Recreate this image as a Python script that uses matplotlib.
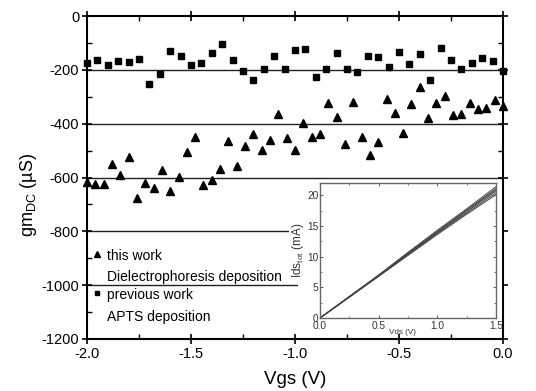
import numpy as np
import matplotlib
matplotlib.use("Agg")
import matplotlib.pyplot as plt
from matplotlib.patches import Rectangle

plt.rcParams['font.family'] = ['Liberation Sans', 'DejaVu Sans']
plt.rcParams['mathtext.default'] = 'regular'

# ---- data ----
vgs_this = np.round(np.arange(-2.0, 0.0001, 0.04), 2)  # 51 points
gm_this = [-616, -623, -623, -551, -589, -523, -678, -622, -640, -573,
           -652, -599, -504, -448, -628, -609, -567, -465, -559, -484,
           -440, -499, -462, -363, -454, -499, -399, -449, -440, -323,
           -374, -474, -320, -449, -517, -468, -309, -360, -433, -328,
           -265, -378, -325, -299, -369, -363, -323, -346, -341, -312,
           -336]
vgs_prev = np.round(np.arange(-2.0, 0.0001, 0.05), 2)  # 41 points
gm_prev = [-173, -163, -183, -168, -170, -159, -251, -215, -130, -149,
           -183, -173, -137, -104, -163, -205, -237, -196, -147, -198,
           -125, -122, -226, -198, -138, -198, -209, -147, -153, -188,
           -133, -177, -141, -238, -119, -164, -198, -173, -157, -169,
           -205]

vds = [0.0, 0.25, 0.5, 0.75, 1.0, 1.25, 1.5]
ids_curves = [
    [0, 3.4, 6.8, 10.2, 13.6, 16.9, 20.1],
    [0, 3.4, 6.8, 10.3, 13.8, 17.1, 20.4],
    [0, 3.4, 6.9, 10.4, 13.9, 17.3, 20.7],
    [0, 3.5, 6.9, 10.5, 14.0, 17.5, 20.9],
    [0, 3.5, 7.0, 10.6, 14.1, 17.6, 21.1],
    [0, 3.5, 7.0, 10.7, 14.3, 17.8, 21.4],
]

xticks = [-2.0, -1.5, -1.0, -0.5, 0.0]
yticks = [0, -200, -400, -600, -800, -1000, -1200]
grid_levels = [-200, -400, -600, -800, -1000]

fig = plt.figure(figsize=(5.36, 3.91), dpi=100)
ax = fig.add_axes([87/536, 1-339/391, 416/536, 323/391])

for g in grid_levels:
    ax.axhline(g, color='#222222', lw=1.0, zorder=1)

ax.plot(vgs_prev, gm_prev, 's', color='black', ms=4.3, ls='none', zorder=3, clip_on=False)
ax.plot(vgs_this, gm_this, '^', color='black', ms=6.0, ls='none', zorder=3, clip_on=False)

ax.set_xlim(-2.0, 0.0)
ax.set_ylim(-1200, 0)
ax.set_xticks(xticks)
ax.set_xticklabels([f"{t:.1f}" for t in xticks])
ax.set_yticks(yticks)
ax.set_yticklabels([str(t) for t in yticks])
ax.set_xticks(np.arange(-2.0, 0.01, 0.25), minor=True)
ax.set_yticks(np.arange(-1200, 1, 100), minor=True)
ax.tick_params(which='major', direction='inout', length=7, width=1.2, labelsize=10.5,
               top=True, right=True, pad=2)
ax.tick_params(which='minor', direction='in', length=3.5, width=1.0, top=True, right=True)
for s in ax.spines.values():
    s.set_linewidth(1.5)
ax.set_xlabel('Vgs (V)', fontsize=13.5)
ax.xaxis.set_label_coords(0.5, -0.1)
ax.set_ylabel('gm$_{DC}$ (\u00b5S)', fontsize=13)
ax.yaxis.set_label_coords(-0.115, 0.446)

# legend-like annotation
ax.plot([0.023], [0.262], '^', color='black', ms=4.5, transform=ax.transAxes, clip_on=False)
ax.text(0.048, 0.257, 'this work', transform=ax.transAxes, fontsize=10, va='center')
ax.text(0.048, 0.193, 'Dielectrophoresis deposition', transform=ax.transAxes, fontsize=10, va='center')
ax.plot([0.023], [0.143], 's', color='black', ms=3.2, transform=ax.transAxes, clip_on=False)
ax.text(0.048, 0.136, 'previous work', transform=ax.transAxes, fontsize=10, va='center')
ax.text(0.048, 0.069, 'APTS deposition', transform=ax.transAxes, fontsize=10, va='center')

# white background for inset region
fig.patches.append(Rectangle((298/536, 1-334/391), 204/536, 152/391,
                             transform=fig.transFigure, facecolor='white',
                             edgecolor='none', zorder=2))

iax = fig.add_axes([320/536, 1-318/391, 176/536, 135/391], zorder=5)
for ids in ids_curves:
    iax.plot(vds, ids, color='#444444', lw=0.7)
iax.set_xlim(0, 1.5)
iax.set_ylim(0, 22)
iax.set_xticks([0.0, 0.5, 1.0, 1.5])
iax.set_xticklabels(['0.0', '0.5', '1.0', '1.5'])
iax.set_yticks([0, 5, 10, 15, 20])
iax.set_xticks(np.arange(0, 1.51, 0.25), minor=True)
iax.set_yticks(np.arange(0, 22.1, 2.5), minor=True)
iax.tick_params(which='both', direction='in', top=True, right=True, labelsize=7.3,
                colors='#444444', labelcolor='#333333', pad=1)
iax.tick_params(axis='x', which='major', pad=2.5)
iax.tick_params(which='major', length=2.5, width=0.6)
iax.tick_params(which='minor', length=1.5, width=0.5)
for s in iax.spines.values():
    s.set_linewidth(1.0)
    s.set_color('#666666')
iax.text(0.47, -0.085, 'Vds (V)', transform=iax.transAxes, fontsize=5.8,
         ha='center', va='top', color='#333333')
iax.set_ylabel('Ids$_{tot}$ (mA)', fontsize=8.5, labelpad=1, color='#333333',
               bbox=dict(facecolor='white', edgecolor='none', pad=1))

fig.savefig('out.png', dpi=100)
